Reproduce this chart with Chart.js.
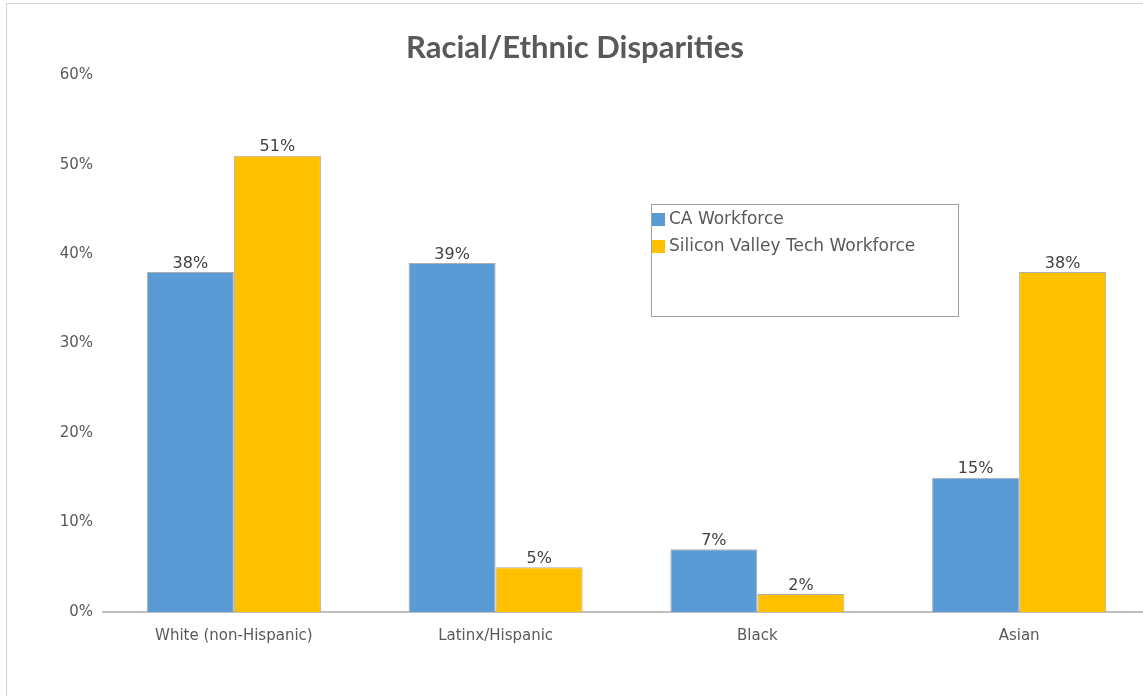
<!DOCTYPE html>
<html>
<head>
<meta charset="utf-8">
<script src="https://cdn.jsdelivr.net/npm/chart.js@4.4.1/dist/chart.umd.min.js"></script>
<style>
  html, body { margin: 0; padding: 0; background: #fff; overflow: hidden; }
  #frame { position: absolute; left: 6px; top: 3px; width: 1200px; height: 760px; border: 1px solid #d4d4d4; }
  #wrap { position: absolute; left: 0; top: 0; width: 1160px; height: 696px; }
</style>
</head>
<body>
<div id="frame"></div>
<div id="wrap"><canvas id="chart"></canvas></div>
<script>
// categories and series (percent)
const categories = ['White (non-Hispanic)', 'Latinx/Hispanic', 'Black', 'Asian'];
const caWorkforce = [38, 39, 7, 15];
const svTechWorkforce = [51, 5, 2, 38];
const seriesNames = ['CA Workforce', 'Silicon Valley Tech Workforce'];
const yTicks = [0, 10, 20, 30, 40, 50, 60];

const FONT = '"DejaVu Sans", Verdana, sans-serif';
const TITLE_FONT = 'Lato, "Noto Sans", sans-serif';

// value labels above each bar
const barLabels = {
  id: 'barLabels',
  afterDatasetsDraw(chart) {
    const ctx = chart.ctx;
    ctx.save();
    ctx.font = '16px ' + FONT;
    ctx.fillStyle = '#404040';
    ctx.textAlign = 'center';
    ctx.textBaseline = 'bottom';
    chart.data.datasets.forEach((ds, i) => {
      chart.getDatasetMeta(i).data.forEach((bar, j) => {
        ctx.fillText(ds.data[j] + '%', bar.x, bar.y - 0.5);
      });
    });
    ctx.restore();
  }
};

// excel-like boxed legend inside the plot
const boxLegend = {
  id: 'boxLegend',
  afterDraw(chart, args, opts) {
    const ctx = chart.ctx;
    const x = opts.x, y = opts.y, w = opts.w, h = opts.h;
    ctx.save();
    ctx.fillStyle = '#fff';
    ctx.fillRect(x, y, w, h);
    ctx.strokeStyle = '#a0a0a0';
    ctx.lineWidth = 1;
    ctx.strokeRect(x + 0.5, y + 0.5, w, h);
    ctx.font = '17px ' + FONT;
    ctx.textBaseline = 'middle';
    chart.data.datasets.forEach((ds, i) => {
      const cy = y + 16 + i * 27;
      ctx.fillStyle = ds.backgroundColor;
      ctx.fillRect(x + 1, cy - 7, 13, 13);
      ctx.fillStyle = '#595959';
      ctx.fillText(ds.label, x + 18, cy);
    });
    ctx.restore();
  }
};

new Chart(document.getElementById('chart'), {
  type: 'bar',
  data: {
    labels: categories,
    datasets: [
      {
        label: seriesNames[0],
        data: caWorkforce,
        backgroundColor: '#5B9BD5',
        borderColor: 'rgba(140,140,140,0.7)',
        borderWidth: 1,
        categoryPercentage: 0.665,
        barPercentage: 1.0
      },
      {
        label: seriesNames[1],
        data: svTechWorkforce,
        backgroundColor: '#FFC000',
        borderColor: 'rgba(140,140,140,0.7)',
        borderWidth: 1,
        categoryPercentage: 0.665,
        barPercentage: 1.0
      }
    ]
  },
  options: {
    responsive: true,
    maintainAspectRatio: false,
    animation: false,
    layout: { padding: { left: 0, right: 10, top: 0, bottom: 0 } },
    plugins: {
      legend: { display: false },
      tooltip: { enabled: false },
      title: {
        display: true,
        text: 'Racial/Ethnic Disparities',
        color: '#595959',
        font: { family: TITLE_FONT, size: 31, weight: 'bold' },
        padding: { top: 29, bottom: 9 }
      },
      boxLegend: { x: 651, y: 204, w: 307, h: 112 }
    },
    scales: {
      x: {
        grid: { display: false, drawTicks: false },
        border: { display: true, color: '#bfbfbf', width: 2 },
        ticks: { color: '#595959', font: { family: FONT, size: 15 }, padding: 15 },
        afterFit(scale) { scale.height = 84; }
      },
      y: {
        min: 0,
        max: 60,
        grid: { display: false, drawTicks: false },
        border: { display: false },
        afterBuildTicks(scale) { scale.ticks = yTicks.map(v => ({ value: v })); },
        ticks: {
          color: '#595959',
          font: { family: FONT, size: 15 },
          padding: 10,
          callback: v => v + '%'
        },
        afterFit(scale) { scale.width = 103; }
      }
    }
  },
  plugins: [barLabels, boxLegend]
});
</script>
</body>
</html>
